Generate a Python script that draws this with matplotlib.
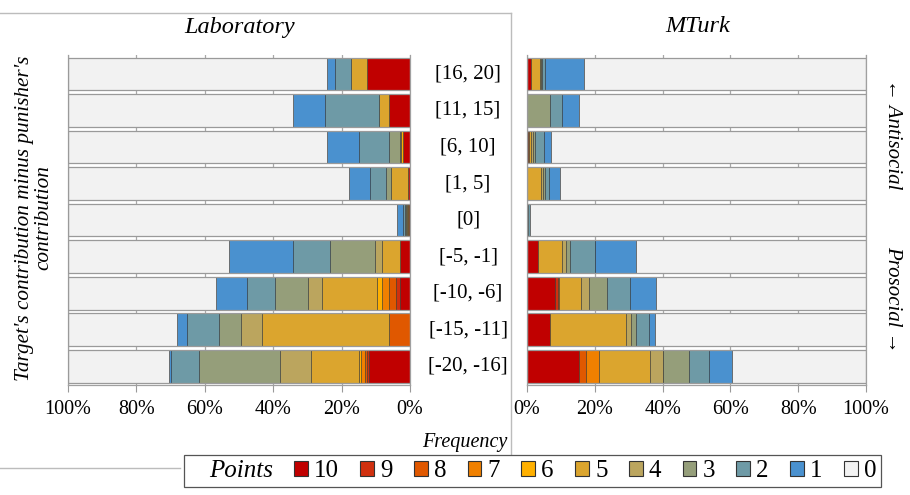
import numpy as np
import matplotlib
matplotlib.use("Agg")
import matplotlib.pyplot as plt
from matplotlib.patches import Patch
from matplotlib.lines import Line2D

plt.rcParams['font.family'] = ['Liberation Serif', 'DejaVu Serif']

# ---- data (percent of punishment decisions, rows top -> bottom) ----
categories = ['[16, 20]', '[11, 15]', '[6, 10]', '[1, 5]', '[0]',
              '[-5, -1]', '[-10, -6]', '[-15, -11]', '[-20, -16]']
points = ['10', '9', '8', '7', '6', '5', '4', '3', '2', '1', '0']

lab_10 = [12.7, 6.1, 2.0, 0.7, 0.3, 2.9, 2.8, 0.0, 11.9]
lab_9 = [0, 0, 0, 0, 0, 0, 1.3, 0, 0.6]
lab_8 = [0, 0, 0, 0, 0.3, 0, 2.0, 6.1, 0.5]
lab_7 = [0, 0, 0, 0, 0, 0, 2.0, 0, 1.2]
lab_6 = [0, 0, 0.6, 0, 0, 0, 1.6, 0, 0.7]
lab_5 = [4.4, 3.0, 0, 4.7, 0.3, 5.4, 16.1, 37.2, 13.9]
lab_4 = [0, 0, 0.3, 0, 0.3, 1.9, 3.9, 6.1, 9.2]
lab_3 = [0, 0, 3.2, 1.5, 0.3, 13.2, 9.9, 6.3, 23.7]
lab_2 = [4.7, 15.6, 8.8, 4.7, 0.4, 10.8, 8.1, 9.6, 8.2]
lab_1 = [2.6, 9.4, 9.3, 6.3, 1.8, 18.8, 9.0, 2.9, 0.6]
lab_0 = [75.6, 65.9, 75.8, 82.1, 96.3, 47.0, 43.3, 31.8, 29.5]

mturk_10 = [1.3, 0, 0.4, 0, 0, 3.3, 8.3, 6.8, 15.2]
mturk_9 = [0, 0, 0, 0, 0, 0, 0.8, 0, 0]
mturk_8 = [0, 0, 0.3, 0, 0, 0, 0.4, 0, 2.2]
mturk_7 = [0, 0, 0, 0, 0, 0, 0, 0, 3.9]
mturk_6 = [0, 0, 0, 0, 0, 0, 0, 0, 0]
mturk_5 = [2.5, 0, 0.5, 4.0, 0, 7.1, 6.3, 22.3, 15.1]
mturk_4 = [0.3, 0, 0.5, 0.6, 0, 1.1, 2.5, 1.6, 3.7]
mturk_3 = [0.3, 6.7, 0.6, 0.6, 0.4, 1.2, 5.3, 1.6, 7.7]
mturk_2 = [1.0, 3.5, 2.7, 1.3, 0.4, 7.5, 6.7, 3.6, 5.9]
mturk_1 = [11.5, 5.2, 2.1, 3.1, 0, 12.0, 7.8, 1.8, 6.9]
mturk_0 = [83.1, 84.6, 92.9, 90.4, 99.2, 67.8, 61.9, 62.3, 39.4]

colors = ['#C00000', '#D0300F', '#E05800', '#F08000', '#FFB000', '#DBA52E',
          '#BBA55E', '#959E7A', '#6E9AA6', '#4A91CF', '#F2F2F2']

lab = [lab_10, lab_9, lab_8, lab_7, lab_6, lab_5, lab_4, lab_3, lab_2, lab_1, lab_0]
mturk = [mturk_10, mturk_9, mturk_8, mturk_7, mturk_6, mturk_5, mturk_4,
         mturk_3, mturk_2, mturk_1, mturk_0]

fig = plt.figure(figsize=(9.1, 4.95), dpi=100)
ax_l = fig.add_axes([0.0747, 0.222, 0.3758, 0.667])
ax_r = fig.add_axes([0.5791, 0.222, 0.3725, 0.667])

y = np.arange(len(categories))
h = 0.9


def draw_panel(ax, series):
    left = np.zeros(len(categories))
    for vals, col in zip(series, colors):
        vals = np.array(vals, dtype=float)
        lw = [0.7 if v > 0 else 0 for v in vals]
        ax.barh(y, vals, height=h, left=left, color=col,
                edgecolor=(0.15, 0.15, 0.15, 0.5), linewidth=lw, zorder=2)
        left += vals
    # grey frame around each bar
    ax.barh(y, 100, height=h, fill=False, edgecolor='#9a9a9a', linewidth=0.9, zorder=3)
    ax.set_ylim(8.52, -0.52)
    ax.set_yticks([])
    ax.set_xticks(np.arange(0, 101, 20))
    ax.set_xticklabels([f'{v}%' for v in range(0, 101, 20)], fontsize=14.5)
    ax.xaxis.grid(True, color='#a8a8a8', linewidth=0.9, zorder=0)
    ax.set_axisbelow(True)
    ax.tick_params(axis='x', length=5, color='#999999', pad=6)
    ax.spines['top'].set_visible(False)
    for s in ['left', 'right', 'bottom']:
        ax.spines[s].set_color('#a0a0a0')
        ax.spines[s].set_linewidth(0.9)


draw_panel(ax_l, lab)
ax_l.set_xlim(100, 0)
draw_panel(ax_r, mturk)
ax_r.set_xlim(0, 100)

# category labels between panels
for yi, cat in zip(y, categories):
    ax_l.text(-17, yi, cat, ha='center', va='center', fontsize=15, clip_on=False)

fig.text(240 / 910, 1 - 27 / 495, 'Laboratory', ha='center', va='center',
         fontsize=17.5, style='italic')
fig.text(698 / 910, 1 - 27 / 495, 'MTurk', ha='center', va='center',
         fontsize=17.5, style='italic')
fig.text(34 / 910, 1 - 218 / 495,
         "Target's contribution minus punisher's\ncontribution",
         ha='center', va='center', rotation=90, fontsize=15.3, style='italic',
         linespacing=1.05)
fig.text(507 / 910, 1 - 442 / 495, 'Frequency', ha='right', va='center',
         fontsize=14.5, style='italic')
fig.text(893 / 910, 1 - 134 / 495, '\u2190 Antisocial', ha='center', va='center',
         rotation=-90, fontsize=15, style='italic')
fig.text(893 / 910, 1 - 299 / 495, 'Prosocial \u2192', ha='center', va='center',
         rotation=-90, fontsize=15, style='italic')

# frame lines
frame = '#bcbcbc'
fig.add_artist(Line2D([0, 511 / 910], [1 - 13 / 495, 1 - 13 / 495], color=frame, lw=1))
fig.add_artist(Line2D([511 / 910, 511 / 910], [1 - 13 / 495, 1 - 468 / 495], color=frame, lw=1))
fig.add_artist(Line2D([0, 180 / 910], [1 - 468 / 495, 1 - 468 / 495], color=frame, lw=1))

# legend
handles = [Patch(facecolor='none', edgecolor='none')]
handles += [Patch(facecolor=c, edgecolor='#333333', linewidth=0.8) for c in colors]
labels = ['Points'] + points
leg = fig.legend(handles, labels, loc='center', bbox_to_anchor=(532.5 / 910, 1 - 471 / 495),
                 ncol=12, fontsize=18, frameon=True, fancybox=False,
                 edgecolor='#555555', framealpha=1, handlelength=0.55,
                 handleheight=0.55, handletextpad=0.25, columnspacing=0.85,
                 borderpad=0.2)
leg.get_frame().set_linewidth(0.9)
leg.get_texts()[0].set_fontstyle('italic')

fig.savefig('out.png', dpi=100)
